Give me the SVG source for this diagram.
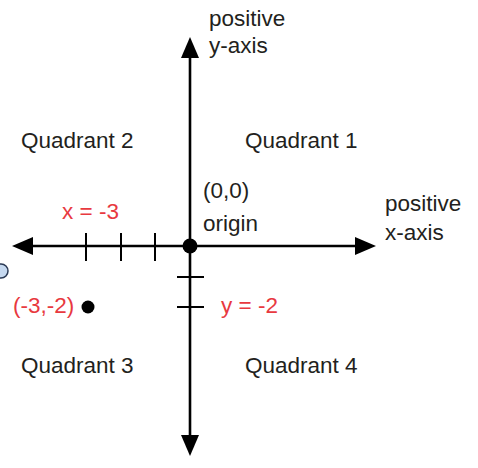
<svg xmlns="http://www.w3.org/2000/svg" width="478" height="468" viewBox="0 0 478 468">
<style>
text{font-family:"Liberation Sans","Open Sans",Arial,sans-serif;font-size:22.5px;fill:#231f20}
.red{fill:#e8393f}
.ax{stroke:#000;stroke-width:2.6;fill:none}
.tk{stroke:#000;stroke-width:2}
</style>
<rect width="478" height="468" fill="#fff"/>
<g id="connectors">
<line class="ax" x1="30" y1="246" x2="358" y2="246"/>
<line class="ax" x1="190" y1="55" x2="190" y2="438"/>
<polygon points="12,246 33,237 33,255" fill="#000"/>
<polygon points="376,246 355,237 355,255" fill="#000"/>
<polygon points="190,37 181,58 199,58" fill="#000"/>
<polygon points="190,456 181,435 199,435" fill="#000"/>
<line class="tk" x1="86" y1="233" x2="86" y2="261"/>
<line class="tk" x1="121" y1="233" x2="121" y2="261"/>
<line class="tk" x1="155" y1="233" x2="155" y2="261"/>
<line class="tk" x1="177" y1="277" x2="204" y2="277"/>
<line class="tk" x1="177" y1="307" x2="204" y2="307"/>
</g>
<g id="origin"><circle cx="190" cy="246" r="7.5" fill="#000"/>
<text x="203" y="198">(0,0)</text><text x="203" y="231">origin</text></g>
<g id="point"><circle cx="88" cy="307" r="6.5" fill="#000"/><text class="red" x="13" y="313">(-3,-2)</text></g>
<g id="xlabel"><text class="red" x="62" y="219">x = -3</text></g>
<g id="ylabel"><text class="red" x="221" y="313">y = -2</text></g>
<g id="posy"><text x="209" y="26">positive</text><text x="209" y="53">y-axis</text></g>
<g id="posx"><text x="385" y="211">positive</text><text x="385" y="240">x-axis</text></g>
<g id="q1"><text x="245" y="148">Quadrant 1</text></g>
<g id="q2"><text x="21" y="148">Quadrant 2</text></g>
<g id="q3"><text x="21" y="373">Quadrant 3</text></g>
<g id="q4"><text x="245" y="373">Quadrant 4</text></g>
<g id="marker"><circle cx="1" cy="271" r="7" fill="#c6d9f0" stroke="#2b3a55" stroke-width="1.5"/></g>
</svg>
